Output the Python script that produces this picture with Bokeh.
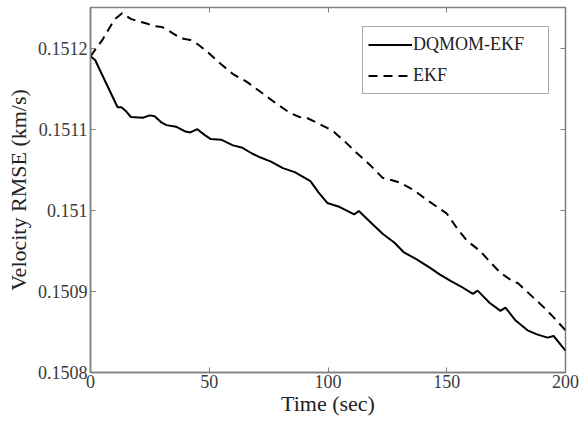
from bokeh.plotting import figure
from bokeh.models import LinearAxis, FixedTicker, CustomJSTickFormatter, Range1d, Legend, LegendItem
from bokeh.embed import file_html
from bokeh.resources import INLINE

# DQMOM-EKF (solid)
t_dq = [0, 2, 11.4, 13, 15, 17, 22, 25, 27, 30, 32, 36, 40, 42, 45, 48, 50.5, 55, 60, 64, 68,
        71.6, 76, 81, 86, 92.6, 96, 99.7, 105, 111, 113, 118, 123, 128, 132, 137, 143, 147,
        151.6, 156, 161, 163, 168, 172.6, 174.7, 179, 184, 188, 192.4, 195, 200]
v_dq = [0.15119, 0.151185, 0.151127, 0.151127, 0.151122, 0.151115, 0.151114, 0.151117, 0.151116,
        0.151108, 0.151105, 0.151103, 0.151097, 0.151096, 0.151100, 0.151093, 0.151088, 0.151087,
        0.151080, 0.151077, 0.151070, 0.151065, 0.151060, 0.151052, 0.151047, 0.151036, 0.151022,
        0.151009, 0.151004, 0.150995, 0.150999, 0.150985, 0.150971, 0.150960, 0.150948, 0.150940,
        0.150929, 0.150921, 0.150913, 0.150906, 0.150897, 0.150901, 0.150886, 0.150876, 0.150880,
        0.150864, 0.150852, 0.150847, 0.150843, 0.150845, 0.150827]

# EKF (dashed)
t_ekf = [0, 5, 10, 13.3, 17, 20, 24, 26.7, 30, 32, 38, 42, 45, 49, 55, 60, 66, 73, 78, 84, 88, 91,
         96, 102, 107, 112, 118, 123, 127, 130.5, 136, 142, 150, 155, 158.7, 164, 168, 172.6, 177,
         180, 186.6, 191, 195, 200]
v_ekf = [0.15119, 0.151210, 0.151235, 0.151243, 0.151236, 0.151233, 0.151230, 0.151227, 0.151226,
         0.151223, 0.151212, 0.151210, 0.151205, 0.151196, 0.151180, 0.151168, 0.151158, 0.151143,
         0.151132, 0.151120, 0.151115, 0.151114, 0.151107, 0.151098, 0.151085, 0.151071, 0.151055,
         0.151040, 0.151037, 0.151034, 0.151025, 0.151012, 0.150996, 0.150975, 0.150962, 0.150950,
         0.150937, 0.150923, 0.150914, 0.150910, 0.150892, 0.150880, 0.150868, 0.150852]

x_ticks = [0, 50, 100, 150, 200]
y_ticks = [0.1508, 0.1509, 0.1510, 0.1511, 0.1512]

FONT = "'Liberation Serif', 'Times New Roman', Times, serif"
AX = "#7f7f7f"

p = figure(width=585, height=423, output_backend="svg", toolbar_location=None,
           x_range=Range1d(0, 200), y_range=Range1d(0.1508, 0.15125),
           frame_width=475, frame_height=365,
           min_border_left=90, min_border_right=20, min_border_top=7, min_border_bottom=51)
p.xgrid.visible = False
p.ygrid.visible = False
p.outline_line_color = AX
p.outline_line_width = 1.5
p.background_fill_color = "white"
p.border_fill_color = "white"

fmt = CustomJSTickFormatter(code="return String(parseFloat(tick.toFixed(4)));")
blank = CustomJSTickFormatter(code="return '';")

for ax in (p.xaxis[0], p.yaxis[0]):
    ax.axis_line_color = AX
    ax.axis_line_width = 1.5
    ax.major_tick_line_color = AX
    ax.major_tick_in = 5
    ax.major_tick_out = 0
    ax.minor_tick_line_color = None
    ax.major_label_text_font = FONT
    ax.major_label_text_font_size = "18px"
    ax.major_label_text_color = "#3a3a3a"
    ax.axis_label_text_font = FONT
    ax.axis_label_text_font_size = "22px"
    ax.axis_label_text_font_style = "normal"
    ax.axis_label_text_color = "#222222"

p.xaxis[0].ticker = FixedTicker(ticks=x_ticks)
p.yaxis[0].ticker = FixedTicker(ticks=y_ticks)
p.yaxis[0].formatter = fmt
p.xaxis[0].axis_label = "Time (sec)"
p.yaxis[0].axis_label = "Velocity RMSE (km/s)"
p.xaxis[0].major_label_standoff = 2
p.yaxis[0].major_label_standoff = 3
p.xaxis[0].axis_label_standoff = 0
p.yaxis[0].axis_label_standoff = 4

top = LinearAxis(ticker=FixedTicker(ticks=x_ticks), formatter=blank,
                 axis_line_color=None, major_tick_line_color=AX, major_tick_in=5,
                 major_tick_out=0, minor_tick_line_color=None, major_label_standoff=0)
right = LinearAxis(ticker=FixedTicker(ticks=y_ticks), formatter=blank,
                   axis_line_color=None, major_tick_line_color=AX, major_tick_in=5,
                   major_tick_out=0, minor_tick_line_color=None, major_label_standoff=0)
p.add_layout(top, "above")
p.add_layout(right, "right")

r1 = p.line(t_dq, v_dq, line_color="black", line_width=2)
r2 = p.line(t_ekf, v_ekf, line_color="black", line_width=2, line_dash="9 6")

legend = Legend(items=[LegendItem(label="DQMOM-EKF", renderers=[r1]),
                       LegendItem(label="EKF", renderers=[r2])],
                location=(272, 278))
legend.label_text_font = FONT
legend.label_text_font_size = "18px"
legend.label_text_color = "#222222"
legend.border_line_color = "#555555"
legend.border_line_width = 1.5
legend.glyph_width = 44
legend.glyph_height = 25
legend.label_height = 25
legend.label_width = 130
legend.label_standoff = 1
legend.spacing = 6
legend.padding = 5
legend.margin = 0
p.add_layout(legend)

open("out.html", "w").write(file_html(p, INLINE))
